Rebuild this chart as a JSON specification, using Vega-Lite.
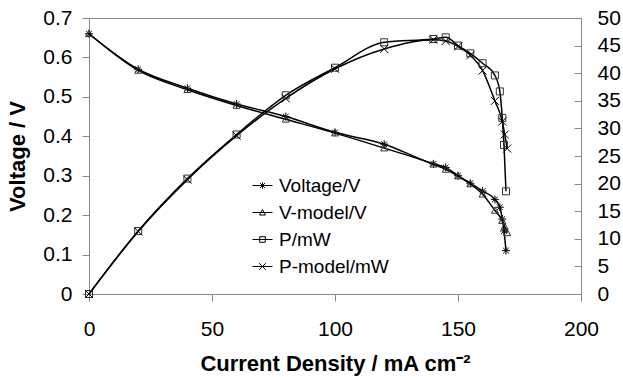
{
  "$schema": "https://vega.github.io/schema/vega-lite/v6.json",
  "autosize": {"type": "none"},
  "width": 492,
  "height": 276,
  "padding": {"left": 89, "top": 18, "right": 42, "bottom": 83},
  "background": "white",
  "config": {
    "font": "Liberation Sans",
    "view": {"stroke": "#888", "strokeWidth": 1},
    "axis": {"grid": false, "domainColor": "#888", "tickColor": "#888", "labelColor": "black", "titleColor": "black", "labelFont": "Liberation Sans", "titleFont": "Liberation Sans", "labelFontSize": 21, "titleFontSize": 22, "titleFontWeight": "bold", "tickSize": 7, "labelFlush": false, "labelOverlap": false}
  },
  "data": {"values": [
    {"s": "Voltage/V", "I": 0, "v": 0.66}, {"s": "Voltage/V", "I": 20, "v": 0.57}, {"s": "Voltage/V", "I": 40, "v": 0.522}, {"s": "Voltage/V", "I": 60, "v": 0.482}, {"s": "Voltage/V", "I": 80, "v": 0.45}, {"s": "Voltage/V", "I": 100, "v": 0.41}, {"s": "Voltage/V", "I": 120, "v": 0.38}, {"s": "Voltage/V", "I": 140, "v": 0.33}, {"s": "Voltage/V", "I": 145, "v": 0.321}, {"s": "Voltage/V", "I": 150, "v": 0.3}, {"s": "Voltage/V", "I": 155, "v": 0.281}, {"s": "Voltage/V", "I": 160, "v": 0.261}, {"s": "Voltage/V", "I": 165, "v": 0.24}, {"s": "Voltage/V", "I": 167, "v": 0.22}, {"s": "Voltage/V", "I": 168, "v": 0.19}, {"s": "Voltage/V", "I": 168.7, "v": 0.16}, {"s": "Voltage/V", "I": 169.5, "v": 0.11},
    {"s": "V-model/V", "I": 0, "v": 0.66}, {"s": "V-model/V", "I": 20, "v": 0.567}, {"s": "V-model/V", "I": 40, "v": 0.518}, {"s": "V-model/V", "I": 60, "v": 0.478}, {"s": "V-model/V", "I": 80, "v": 0.443}, {"s": "V-model/V", "I": 100, "v": 0.408}, {"s": "V-model/V", "I": 120, "v": 0.37}, {"s": "V-model/V", "I": 140, "v": 0.329}, {"s": "V-model/V", "I": 145, "v": 0.316}, {"s": "V-model/V", "I": 150, "v": 0.299}, {"s": "V-model/V", "I": 155, "v": 0.279}, {"s": "V-model/V", "I": 160, "v": 0.253}, {"s": "V-model/V", "I": 165, "v": 0.212}, {"s": "V-model/V", "I": 168, "v": 0.186}, {"s": "V-model/V", "I": 169, "v": 0.171}, {"s": "V-model/V", "I": 170, "v": 0.155},
    {"s": "P/mW", "I": 0, "v": 0}, {"s": "P/mW", "I": 20, "v": 11.4}, {"s": "P/mW", "I": 40, "v": 20.9}, {"s": "P/mW", "I": 60, "v": 28.9}, {"s": "P/mW", "I": 80, "v": 36.0}, {"s": "P/mW", "I": 100, "v": 41.0}, {"s": "P/mW", "I": 120, "v": 45.6}, {"s": "P/mW", "I": 140, "v": 46.2}, {"s": "P/mW", "I": 145, "v": 46.5}, {"s": "P/mW", "I": 150, "v": 45.0}, {"s": "P/mW", "I": 155, "v": 43.6}, {"s": "P/mW", "I": 160, "v": 41.8}, {"s": "P/mW", "I": 165, "v": 39.6}, {"s": "P/mW", "I": 167, "v": 36.7}, {"s": "P/mW", "I": 168, "v": 31.9}, {"s": "P/mW", "I": 168.7, "v": 27.0}, {"s": "P/mW", "I": 169.5, "v": 18.6},
    {"s": "P-model/mW", "I": 0, "v": 0}, {"s": "P-model/mW", "I": 20, "v": 11.34}, {"s": "P-model/mW", "I": 40, "v": 20.72}, {"s": "P-model/mW", "I": 60, "v": 28.68}, {"s": "P-model/mW", "I": 80, "v": 35.44}, {"s": "P-model/mW", "I": 100, "v": 40.8}, {"s": "P-model/mW", "I": 120, "v": 44.4}, {"s": "P-model/mW", "I": 140, "v": 46.06}, {"s": "P-model/mW", "I": 145, "v": 45.82}, {"s": "P-model/mW", "I": 150, "v": 44.85}, {"s": "P-model/mW", "I": 155, "v": 43.25}, {"s": "P-model/mW", "I": 160, "v": 40.48}, {"s": "P-model/mW", "I": 165, "v": 34.98}, {"s": "P-model/mW", "I": 168, "v": 31.25}, {"s": "P-model/mW", "I": 169, "v": 28.9}, {"s": "P-model/mW", "I": 170, "v": 26.35}
  ]},
  "encoding": {
    "x": {"field": "I", "type": "quantitative", "scale": {"domain": [0, 200], "nice": false}, "axis": {"values": [0, 50, 100, 150, 200], "title": "Current Density / mA cm⁻²", "labelPadding": 17, "titlePadding": 14}}
  },
  "layer": [
    {
      "transform": [{"filter": "datum.s == 'Voltage/V' || datum.s == 'V-model/V'"}],
      "encoding": {
        "y": {"field": "v", "type": "quantitative", "scale": {"domain": [0, 0.7], "nice": false}, "axis": {"orient": "left", "values": [0, 0.1, 0.2, 0.3, 0.4, 0.5, 0.6, 0.7], "format": "~g", "title": "Voltage / V", "labelPadding": 10, "titlePadding": 13}}
      },
      "layer": [
        {"mark": {"type": "line", "color": "black", "strokeWidth": 1.5, "interpolate": "monotone"}, "encoding": {"detail": {"field": "s"}}},
        {"transform": [{"filter": "datum.s == 'Voltage/V'"}], "mark": {"type": "point", "shape": "M-1,0L1,0M0,-1L0,1M-0.7,-0.7L0.7,0.7M-0.7,0.7L0.7,-0.7", "filled": false, "stroke": "black", "strokeWidth": 1, "size": 64, "opacity": 1}},
        {"transform": [{"filter": "datum.s == 'V-model/V'"}], "mark": {"type": "point", "shape": "M0,-1L1,0.8L-1,0.8Z", "filled": false, "stroke": "#333", "strokeWidth": 1, "size": 49, "opacity": 1}}
      ]
    },
    {
      "transform": [{"filter": "datum.s == 'P/mW' || datum.s == 'P-model/mW'"}],
      "encoding": {
        "y": {"field": "v", "type": "quantitative", "scale": {"domain": [0, 50], "nice": false}, "axis": {"orient": "right", "values": [0, 5, 10, 15, 20, 25, 30, 35, 40, 45, 50], "title": null, "tickSize": -7, "labelPadding": 23}}
      },
      "layer": [
        {"mark": {"type": "line", "color": "black", "strokeWidth": 1.5, "interpolate": "monotone"}, "encoding": {"detail": {"field": "s"}}},
        {"transform": [{"filter": "datum.s == 'P/mW'"}], "mark": {"type": "point", "shape": "M-1,-1L1,-1L1,1L-1,1Z", "filled": false, "stroke": "#333", "strokeWidth": 1, "size": 49, "opacity": 1}},
        {"transform": [{"filter": "datum.s == 'P-model/mW'"}], "mark": {"type": "point", "shape": "M-1,-1L1,1M-1,1L1,-1", "filled": false, "stroke": "black", "strokeWidth": 1, "size": 64, "opacity": 1}},
        {"transform": [{"filter": "datum.s == 'P/mW'"}], "mark": {"type": "point", "filled": false, "opacity": 0, "stroke": "black"},
          "encoding": {"shape": {"field": "s", "type": "nominal", "sort": null,
            "scale": {"domain": ["Voltage/V", "V-model/V", "P/mW", "P-model/mW"], "range": [
              "M-1,0L1,0M-0.33,0L0.33,0M0,-0.33L0,0.33M-0.24,-0.24L0.24,0.24M-0.24,0.24L0.24,-0.24",
              "M-1,0L1,0M0,-0.3L0.3,0.25L-0.3,0.25Z",
              "M-1,0L1,0M-0.28,-0.28L0.28,-0.28L0.28,0.28L-0.28,0.28Z",
              "M-1,0L1,0M-0.33,-0.33L0.33,0.33M-0.33,0.33L0.33,-0.33"
            ]},
            "legend": {"title": null, "orient": "none", "legendX": 163, "legendY": 157, "symbolSize": 400, "symbolStrokeWidth": 1, "symbolStrokeColor": "black", "symbolFillColor": "transparent", "labelFontSize": 19, "labelFont": "Liberation Sans", "labelColor": "black", "labelOffset": 6, "rowPadding": 6, "padding": 0}
          }}
        }
      ]
    }
  ],
  "resolve": {"scale": {"y": "independent"}}
}
